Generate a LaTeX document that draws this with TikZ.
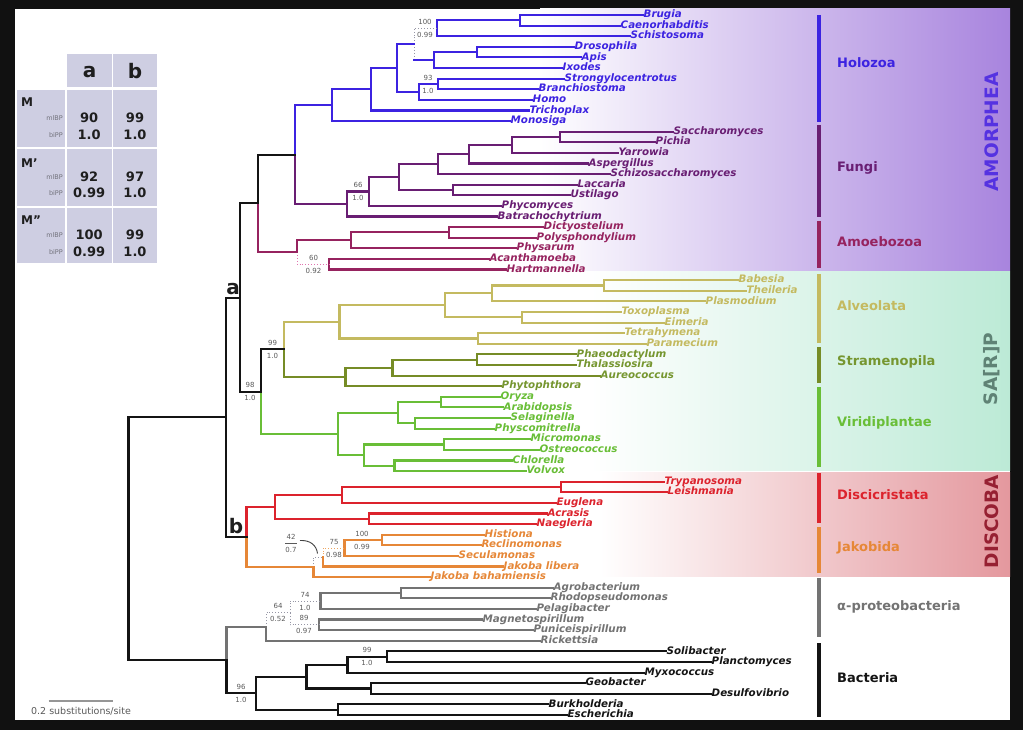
\documentclass[tikz,border=0pt]{standalone}
\usepackage{fontspec}
\setmainfont{DejaVu Sans}
\usetikzlibrary{calc}
\definecolor{cHolo}{RGB}{60,35,225}
\definecolor{cFung}{RGB}{105,30,115}
\definecolor{cAmoe}{RGB}{150,35,95}
\definecolor{cAlve}{RGB}{196,186,96}
\definecolor{cStra}{RGB}{118,140,38}
\definecolor{cViri}{RGB}{105,190,55}
\definecolor{cDisc}{RGB}{220,35,45}
\definecolor{cJako}{RGB}{230,135,55}
\definecolor{cProt}{RGB}{115,115,115}
\definecolor{cBact}{RGB}{20,20,20}
\definecolor{cSupp}{RGB}{90,90,90}
\definecolor{cCell}{RGB}{206,206,226}
\definecolor{cFrame}{RGB}{17,17,17}
\definecolor{cTab}{RGB}{30,30,30}
\definecolor{cTsub}{RGB}{115,115,125}
\definecolor{cDotG}{RGB}{150,150,165}
\definecolor{cDotP}{RGB}{225,115,175}
\definecolor{cDotO}{RGB}{238,165,95}
\definecolor{cAmorTxt}{RGB}{85,50,225}
\definecolor{cSarTxt}{RGB}{95,130,117}
\definecolor{cDiscoTxt}{RGB}{150,32,50}
\definecolor{cAmorMid}{RGB}{226,190,234}
\definecolor{cAmorR}{RGB}{168,132,222}
\definecolor{cSarMid}{RGB}{236,246,234}
\definecolor{cSarR}{RGB}{188,234,214}
\definecolor{cDiscoMid}{RGB}{246,214,214}
\definecolor{cDiscoR}{RGB}{228,152,158}
\definecolor{cScale}{RGB}{150,150,150}
\definecolor{cStraTxt}{RGB}{118,150,48}
\tikzset{
  branch/.style={line width=2.1pt, line cap=rect, line join=miter},
  dotbr/.style={line width=0.9pt, dotted},
  taxon/.style={anchor=west, inner sep=0.5pt, font={\fontsize{10.3}{12}\selectfont\bfseries\itshape}, text height=7.5pt, text depth=2.2pt},
  supp/.style={inner sep=0pt, font={\fontsize{7}{8}\selectfont}, text=cSupp},
  grp/.style={anchor=west, inner sep=0pt, font={\fontsize{13}{15}\selectfont\bfseries}},
  bandlbl/.style={rotate=90, inner sep=0pt, font={\fontsize{18.5}{20}\selectfont\bfseries}},
  gbar/.style={line width=4.5pt},
  cell/.style={fill=cCell, draw=none, inner sep=0pt},
  tval/.style={inner sep=0pt, font={\fontsize{13}{15}\selectfont\bfseries}, text=cTab},
  tsub/.style={anchor=east, inner sep=0pt, font={\fontsize{6.5}{7}\selectfont}, text=cTsub},
  trow/.style={anchor=west, inner sep=0pt, font={\fontsize{12}{14}\selectfont\bfseries}, text=cTab},
  clade/.style={inner sep=0pt, font={\fontsize{20}{22}\selectfont\bfseries}, text=cTab},
}
\newcommand\mkleaf[5]{%
  \coordinate (#1) at ({#2-2},{15+10.606*#3});
  \node[taxon,text=#4] (t#1) at (#1) {#5};}
\newcommand\mknode[4]{\path let \p1=(#3),\p2=(#4) in coordinate (#1) at (#2pt,{0.5*(\y1+\y2)});}
\newcommand\mkbr[3]{\draw[branch,#1] (#2) |- (#3);}
\begin{document}
\begin{tikzpicture}[x=1pt,y=-1pt]
\useasboundingbox (0,0) rectangle (1023,730);
\fill[cFrame] (0,0) rectangle (1023,730);
\fill[white] (15,9) rectangle (1010,720);
% bands
\shade[left color=white, middle color=cAmorMid, right color=cAmorR] (540,9) rectangle (1010,270.5);
\shade[left color=white, middle color=cSarMid, right color=cSarR] (590,272) rectangle (1010,470);
\shade[left color=white, middle color=cDiscoMid, right color=cDiscoR] (600,472) rectangle (1010,576.5);
% group bars
\draw[gbar,cHolo] (819,15) -- (819,122);
\draw[gbar,cFung] (819,125) -- (819,217);
\draw[gbar,cAmoe] (819,221) -- (819,268);
\draw[gbar,cAlve] (819,274) -- (819,343);
\draw[gbar,cStra] (819,347) -- (819,383);
\draw[gbar,cViri] (819,387) -- (819,467);
\draw[gbar,cDisc] (819,473) -- (819,523);
\draw[gbar,cJako] (819,527) -- (819,573);
\draw[gbar,cProt] (819,578) -- (819,637);
\draw[gbar,cBact] (819,643) -- (819,717);
% group labels
\node[grp,text=cHolo] (gHolo) at (837,63) {Holozoa};
\node[grp,text=cFung] (gFung) at (837,168) {Fungi};
\node[grp,text=cAmoe] (gAmoe) at (837,242) {Amoebozoa};
\node[grp,text=cAlve] (gAlve) at (837,306) {Alveolata};
\node[grp,text=cStraTxt] (gStra) at (837,362) {Stramenopila};
\node[grp,text=cViri] (gViri) at (837,423) {Viridiplantae};
\node[grp,text=cDisc] (gDisc) at (837,495) {Discicristata};
\node[grp,text=cJako] (gJako) at (837,548) {Jakobida};
\node[grp,text=cProt] (gProt) at (837,607) {α-proteobacteria};
\node[grp,text=cBact] (gBact) at (837,678) {Bacteria};
\node[bandlbl,text=cAmorTxt] (bAmor) at (992,132) {AMORPHEA};
\node[bandlbl,text=cSarTxt] (bSar) at (992,369) {SA[R]P};
\node[bandlbl,text=cDiscoTxt] (bDisco) at (992,521.5) {DISCOBA};
% table
\node[cell,minimum width=45pt,minimum height=33pt] (cHa) at (89.2,70.8) {};
\node[cell,minimum width=43.4pt,minimum height=33pt] (cHb) at (135,70.8) {};
\node[cell,minimum width=48pt,minimum height=57pt] (cL1) at (41,118.5) {};
\node[cell,minimum width=45pt,minimum height=57pt] (cA1) at (89.2,118.5) {};
\node[cell,minimum width=43.4pt,minimum height=57pt] (cB1) at (135,118.5) {};
\node[cell,minimum width=48pt,minimum height=57pt] (cL2) at (41,177.5) {};
\node[cell,minimum width=45pt,minimum height=57pt] (cA2) at (89.2,177.5) {};
\node[cell,minimum width=43.4pt,minimum height=57pt] (cB2) at (135,177.5) {};
\node[cell,minimum width=48pt,minimum height=55pt] (cL3) at (41,235.7) {};
\node[cell,minimum width=45pt,minimum height=55pt] (cA3) at (89.2,235.7) {};
\node[cell,minimum width=43.4pt,minimum height=55pt] (cB3) at (135,235.7) {};
\node[clade] (thA) at (89.5,72) {a};
\node[clade] (thB) at (135,71) {b};
\node[trow] (tM1) at (21,102) {M};
\node[trow] (tM2) at (21,163) {M\symbol{39}};
\node[trow] (tM3) at (21,220) {M\symbol{34}};
\node[tsub] (tm1) at (63,118) {mlBP};
\node[tsub] (tp1) at (63,135) {biPP};
\node[tsub] (tm2) at (63,177) {mlBP};
\node[tsub] (tp2) at (63,193) {biPP};
\node[tsub] (tm3) at (63,235) {mlBP};
\node[tsub] (tp3) at (63,252) {biPP};
\node[tval] (v1a1) at (89.2,118) {90};
\node[tval] (v1a2) at (89.2,135) {1.0};
\node[tval] (v1b1) at (135,118) {99};
\node[tval] (v1b2) at (135,135) {1.0};
\node[tval] (v2a1) at (89.2,177) {92};
\node[tval] (v2a2) at (89.2,193) {0.99};
\node[tval] (v2b1) at (135,177) {97};
\node[tval] (v2b2) at (135,193) {1.0};
\node[tval] (v3a1) at (89.2,235) {100};
\node[tval] (v3a2) at (89.2,252) {0.99};
\node[tval] (v3b1) at (135,235) {99};
\node[tval] (v3b2) at (135,252) {1.0};
% leaves
\mkleaf{brug}{645}{0}{cHolo}{Brugia}
\mkleaf{caen}{622}{1}{cHolo}{Caenorhabditis}
\mkleaf{schi}{632}{2}{cHolo}{Schistosoma}
\mkleaf{dros}{576}{3}{cHolo}{Drosophila}
\mkleaf{apis}{583}{4}{cHolo}{Apis}
\mkleaf{ixod}{564}{5}{cHolo}{Ixodes}
\mkleaf{stro}{566}{6}{cHolo}{Strongylocentrotus}
\mkleaf{bran}{540}{7}{cHolo}{Branchiostoma}
\mkleaf{homo}{534}{8}{cHolo}{Homo}
\mkleaf{tric}{531}{9}{cHolo}{Trichoplax}
\mkleaf{mono}{512}{10}{cHolo}{Monosiga}
\mkleaf{sacc}{675}{11}{cFung}{Saccharomyces}
\mkleaf{pich}{657}{12}{cFung}{Pichia}
\mkleaf{yarr}{620}{13}{cFung}{Yarrowia}
\mkleaf{aspe}{590}{14}{cFung}{Aspergillus}
\mkleaf{schz}{612}{15}{cFung}{Schizosaccharomyces}
\mkleaf{lacc}{579}{16}{cFung}{Laccaria}
\mkleaf{usti}{572}{17}{cFung}{Ustilago}
\mkleaf{phyc}{503}{18}{cFung}{Phycomyces}
\mkleaf{batr}{499}{19}{cFung}{Batrachochytrium}
\mkleaf{dict}{545}{20}{cAmoe}{Dictyostelium}
\mkleaf{poly}{538}{21}{cAmoe}{Polysphondylium}
\mkleaf{phys}{518}{22}{cAmoe}{Physarum}
\mkleaf{acan}{491}{23}{cAmoe}{Acanthamoeba}
\mkleaf{hart}{508}{24}{cAmoe}{Hartmannella}
\mkleaf{babe}{740}{25}{cAlve}{Babesia}
\mkleaf{thei}{748}{26}{cAlve}{Theileria}
\mkleaf{plas}{707}{27}{cAlve}{Plasmodium}
\mkleaf{toxo}{623}{28}{cAlve}{Toxoplasma}
\mkleaf{eime}{666}{29}{cAlve}{Eimeria}
\mkleaf{tetr}{626}{30}{cAlve}{Tetrahymena}
\mkleaf{para}{648}{31}{cAlve}{Paramecium}
\mkleaf{phae}{578}{32}{cStraTxt}{Phaeodactylum}
\mkleaf{thal}{578}{33}{cStraTxt}{Thalassiosira}
\mkleaf{aure}{602}{34}{cStraTxt}{Aureococcus}
\mkleaf{phyt}{503}{35}{cStraTxt}{Phytophthora}
\mkleaf{oryz}{502}{36}{cViri}{Oryza}
\mkleaf{arab}{505}{37}{cViri}{Arabidopsis}
\mkleaf{sela}{512}{38}{cViri}{Selaginella}
\mkleaf{phmi}{496}{39}{cViri}{Physcomitrella}
\mkleaf{micr}{532}{40}{cViri}{Micromonas}
\mkleaf{ostr}{541}{41}{cViri}{Ostreococcus}
\mkleaf{chlo}{514}{42}{cViri}{Chlorella}
\mkleaf{volv}{528}{43}{cViri}{Volvox}
\mkleaf{tryp}{666}{44}{cDisc}{Trypanosoma}
\mkleaf{leis}{669}{45}{cDisc}{Leishmania}
\mkleaf{eugl}{558}{46}{cDisc}{Euglena}
\mkleaf{acra}{549}{47}{cDisc}{Acrasis}
\mkleaf{naeg}{538}{48}{cDisc}{Naegleria}
\mkleaf{hist}{486}{49}{cJako}{Histiona}
\mkleaf{recl}{483}{50}{cJako}{Reclinomonas}
\mkleaf{secu}{460}{51}{cJako}{Seculamonas}
\mkleaf{jlib}{505}{52}{cJako}{Jakoba libera}
\mkleaf{jbah}{432}{53}{cJako}{Jakoba bahamiensis}
\mkleaf{agro}{555}{54}{cProt}{Agrobacterium}
\mkleaf{rhod}{552}{55}{cProt}{Rhodopseudomonas}
\mkleaf{pela}{538}{56}{cProt}{Pelagibacter}
\mkleaf{magn}{484}{57}{cProt}{Magnetospirillum}
\mkleaf{puni}{535}{58}{cProt}{Puniceispirillum}
\mkleaf{rick}{542}{59}{cProt}{Rickettsia}
\mkleaf{soli}{668}{60}{cBact}{Solibacter}
\mkleaf{plan}{713}{61}{cBact}{Planctomyces}
\mkleaf{myxo}{646}{62}{cBact}{Myxococcus}
\mkleaf{geob}{587}{63}{cBact}{Geobacter}
\mkleaf{desu}{713}{64}{cBact}{Desulfovibrio}
\mkleaf{burk}{550}{65}{cBact}{Burkholderia}
\mkleaf{esch}{569}{66}{cBact}{Escherichia}
% internal nodes
\mknode{hBC}{520}{brug}{caen}
\mknode{hBCS}{437}{hBC}{schi}
\mknode{hDA}{477}{dros}{apis}
\mknode{hDAI}{434}{hDA}{ixod}
\mknode{hProt}{414}{hBCS}{hDAI}
\mknode{hSB}{438}{stro}{bran}
\mknode{hDeut}{419}{hSB}{homo}
\mknode{hBil}{397}{hProt}{hDeut}
\mknode{hMet}{371}{hBil}{tric}
\mknode{hHolo}{332}{hMet}{mono}
\mknode{fSP}{560}{sacc}{pich}
\mknode{fSPY}{512}{fSP}{yarr}
\mknode{fSPYA}{469}{fSPY}{aspe}
\mknode{fAsco}{438}{fSPYA}{schz}
\mknode{fLU}{453}{lacc}{usti}
\mknode{fDik}{399}{fAsco}{fLU}
\mknode{fPhy}{369}{fDik}{phyc}
\mknode{fFungi}{347}{fPhy}{batr}
\mknode{opis}{295}{hHolo}{fFungi}
\mknode{aDP}{449}{dict}{poly}
\mknode{aDPP}{351}{aDP}{phys}
\mknode{aAH}{329}{acan}{hart}
\mknode{aAmoeb}{297}{aDPP}{aAH}
\mknode{amor}{258}{opis}{aAmoeb}
\mknode{vBT}{604}{babe}{thei}
\mknode{vBTP}{492}{vBT}{plas}
\mknode{vTE}{522}{toxo}{eime}
\mknode{vApi}{445}{vBTP}{vTE}
\mknode{vTP}{478}{tetr}{para}
\mknode{vAlv}{339.5}{vApi}{vTP}
\mknode{sPT}{477}{phae}{thal}
\mknode{sPTA}{392.5}{sPT}{aure}
\mknode{sStram}{345.5}{sPTA}{phyt}
\mknode{SR}{284}{vAlv}{sStram}
\mknode{gOA}{441}{oryz}{arab}
\mknode{gSP}{415}{sela}{phmi}
\mknode{gEmb}{398}{gOA}{gSP}
\mknode{gMO}{444}{micr}{ostr}
\mknode{gCV}{394.5}{chlo}{volv}
\mknode{gChl}{364}{gMO}{gCV}
\mknode{gViri}{338}{gEmb}{gChl}
\mknode{SAR}{261}{SR}{gViri}
\mknode{nodeA}{240}{amor}{SAR}
\mknode{dTL}{561}{tryp}{leis}
\mknode{dTLE}{342}{dTL}{eugl}
\mknode{dAN}{369}{acra}{naeg}
\mknode{dDisc}{275}{dTLE}{dAN}
\mknode{jHR}{382}{hist}{recl}
\mknode{jHRS}{344.5}{jHR}{secu}
\mknode{jHRSJ}{323}{jHRS}{jlib}
\mknode{jJak}{313.5}{jHRSJ}{jbah}
\mknode{nodeB}{246.5}{dDisc}{jJak}
\mknode{euk}{226}{nodeA}{nodeB}
\mknode{pAR}{401}{agro}{rhod}
\mknode{pARP}{320.5}{pAR}{pela}
\mknode{pMP}{319}{magn}{puni}
\mknode{pAA}{290}{pARP}{pMP}
\mknode{pAlpha}{266}{pAA}{rick}
\mknode{bSP}{387}{soli}{plan}
\mknode{bSPM}{347.5}{bSP}{myxo}
\mknode{bGD}{371}{geob}{desu}
\mknode{bDelta}{306.5}{bSPM}{bGD}
\mknode{bBE}{338}{burk}{esch}
\mknode{bBact}{256}{bDelta}{bBE}
\mknode{bac}{226.5}{pAlpha}{bBact}
\mknode{root}{128.5}{euk}{bac}
% Holozoa branches
\mkbr{cHolo}{hBC}{brug}\mkbr{cHolo}{hBC}{caen}
\mkbr{cHolo}{hBCS}{hBC}\mkbr{cHolo}{hBCS}{schi}
\mkbr{cHolo}{hDA}{dros}\mkbr{cHolo}{hDA}{apis}
\mkbr{cHolo}{hDAI}{hDA}\mkbr{cHolo}{hDAI}{ixod}
\draw[dotbr,cDotG] (hProt) |- (hBCS);
\draw[dotbr,cDotG] (hProt) -- (hProt |- hDAI);
\draw[branch,cHolo] (hProt |- hDAI) -- (hDAI);
\mkbr{cHolo}{hSB}{stro}\mkbr{cHolo}{hSB}{bran}
\mkbr{cHolo}{hDeut}{hSB}\mkbr{cHolo}{hDeut}{homo}
\mkbr{cHolo}{hBil}{hProt}\mkbr{cHolo}{hBil}{hDeut}
\mkbr{cHolo}{hMet}{hBil}\mkbr{cHolo}{hMet}{tric}
\mkbr{cHolo}{hHolo}{hMet}\mkbr{cHolo}{hHolo}{mono}
% Fungi
\mkbr{cFung}{fSP}{sacc}\mkbr{cFung}{fSP}{pich}
\mkbr{cFung}{fSPY}{fSP}\mkbr{cFung}{fSPY}{yarr}
\mkbr{cFung}{fSPYA}{fSPY}\mkbr{cFung}{fSPYA}{aspe}
\mkbr{cFung}{fAsco}{fSPYA}\mkbr{cFung}{fAsco}{schz}
\mkbr{cFung}{fLU}{lacc}\mkbr{cFung}{fLU}{usti}
\mkbr{cFung}{fDik}{fAsco}\mkbr{cFung}{fDik}{fLU}
\mkbr{cFung}{fPhy}{fDik}\mkbr{cFung}{fPhy}{phyc}
\mkbr{cFung}{fFungi}{fPhy}\mkbr{cFung}{fFungi}{batr}
\mkbr{cHolo}{opis}{hHolo}\mkbr{cFung}{opis}{fFungi}
% Amoebozoa
\mkbr{cAmoe}{aDP}{dict}\mkbr{cAmoe}{aDP}{poly}
\mkbr{cAmoe}{aDPP}{aDP}\mkbr{cAmoe}{aDPP}{phys}
\mkbr{cAmoe}{aAH}{acan}\mkbr{cAmoe}{aAH}{hart}
\mkbr{cAmoe}{aAmoeb}{aDPP}
\draw[dotbr,cDotP] (aAmoeb) |- (aAH);
\mkbr{cBact}{amor}{opis}\mkbr{cAmoe}{amor}{aAmoeb}
% SAR
\mkbr{cAlve}{vBT}{babe}\mkbr{cAlve}{vBT}{thei}
\mkbr{cAlve}{vBTP}{vBT}\mkbr{cAlve}{vBTP}{plas}
\mkbr{cAlve}{vTE}{toxo}\mkbr{cAlve}{vTE}{eime}
\mkbr{cAlve}{vApi}{vBTP}\mkbr{cAlve}{vApi}{vTE}
\mkbr{cAlve}{vTP}{tetr}\mkbr{cAlve}{vTP}{para}
\mkbr{cAlve}{vAlv}{vApi}\mkbr{cAlve}{vAlv}{vTP}
\mkbr{cStra}{sPT}{phae}\mkbr{cStra}{sPT}{thal}
\mkbr{cStra}{sPTA}{sPT}\mkbr{cStra}{sPTA}{aure}
\mkbr{cStra}{sStram}{sPTA}\mkbr{cStra}{sStram}{phyt}
\mkbr{cAlve}{SR}{vAlv}\mkbr{cStra}{SR}{sStram}
\mkbr{cViri}{gOA}{oryz}\mkbr{cViri}{gOA}{arab}
\mkbr{cViri}{gSP}{sela}\mkbr{cViri}{gSP}{phmi}
\mkbr{cViri}{gEmb}{gOA}\mkbr{cViri}{gEmb}{gSP}
\mkbr{cViri}{gMO}{micr}\mkbr{cViri}{gMO}{ostr}
\mkbr{cViri}{gCV}{chlo}\mkbr{cViri}{gCV}{volv}
\mkbr{cViri}{gChl}{gMO}\mkbr{cViri}{gChl}{gCV}
\mkbr{cViri}{gViri}{gEmb}\mkbr{cViri}{gViri}{gChl}
\mkbr{cBact}{SAR}{SR}\mkbr{cViri}{SAR}{gViri}
\mkbr{cBact}{nodeA}{amor}\mkbr{cBact}{nodeA}{SAR}
% Discoba
\mkbr{cDisc}{dTL}{tryp}\mkbr{cDisc}{dTL}{leis}
\mkbr{cDisc}{dTLE}{dTL}\mkbr{cDisc}{dTLE}{eugl}
\mkbr{cDisc}{dAN}{acra}\mkbr{cDisc}{dAN}{naeg}
\mkbr{cDisc}{dDisc}{dTLE}\mkbr{cDisc}{dDisc}{dAN}
\mkbr{cJako}{jHR}{hist}\mkbr{cJako}{jHR}{recl}
\mkbr{cJako}{jHRS}{jHR}\mkbr{cJako}{jHRS}{secu}
\draw[dotbr,cDotO] (jHRSJ) |- (jHRS);
\mkbr{cJako}{jHRSJ}{jlib}
\draw[dotbr,cDotG] (jJak) |- (jHRSJ);
\mkbr{cJako}{jJak}{jbah}
\mkbr{cDisc}{nodeB}{dDisc}\mkbr{cJako}{nodeB}{jJak}
\mkbr{cBact}{euk}{nodeA}\mkbr{cBact}{euk}{nodeB}
% alpha-proteobacteria
\mkbr{cProt}{pAR}{agro}\mkbr{cProt}{pAR}{rhod}
\mkbr{cProt}{pARP}{pAR}\mkbr{cProt}{pARP}{pela}
\mkbr{cProt}{pMP}{magn}\mkbr{cProt}{pMP}{puni}
\draw[dotbr,cDotG] (pAA) |- (pARP);
\draw[dotbr,cDotG] (pAA) |- (pMP);
\draw[dotbr,cDotG] (pAlpha) |- (pAA);
\mkbr{cProt}{pAlpha}{rick}
% Bacteria
\mkbr{cBact}{bSP}{soli}\mkbr{cBact}{bSP}{plan}
\mkbr{cBact}{bSPM}{bSP}\mkbr{cBact}{bSPM}{myxo}
\mkbr{cBact}{bGD}{geob}\mkbr{cBact}{bGD}{desu}
\mkbr{cBact}{bDelta}{bSPM}\mkbr{cBact}{bDelta}{bGD}
\mkbr{cBact}{bBE}{burk}\mkbr{cBact}{bBE}{esch}
\mkbr{cBact}{bBact}{bDelta}\mkbr{cBact}{bBact}{bBE}
\mkbr{cProt}{bac}{pAlpha}\mkbr{cBact}{bac}{bBact}
\mkbr{cBact}{root}{euk}\mkbr{cBact}{root}{bac}
% clade letters
\node[clade,anchor=base] (lblA) at (233,294.5) {a};
\node[clade,anchor=base] (lblB) at (236,533.5) {b};
% support values
\node[supp] (s1a) at (425,22) {100};
\node[supp] (s1b) at (425,34.5) {0.99};
\node[supp] (s2a) at (428,77.5) {93};
\node[supp] (s2b) at (428,90.5) {1.0};
\node[supp] (s3a) at (358,185) {66};
\node[supp] (s3b) at (358,198) {1.0};
\node[supp] (s4a) at (313.5,258) {60};
\node[supp] (s4b) at (313.5,271) {0.92};
\node[supp] (s5a) at (272.5,343) {99};
\node[supp] (s5b) at (272.5,356) {1.0};
\node[supp] (s6a) at (250,385) {98};
\node[supp] (s6b) at (250,398) {1.0};
\node[supp] (s7a) at (362,533.5) {100};
\node[supp] (s7b) at (362,546.5) {0.99};
\node[supp] (s8a) at (334,541.5) {75};
\node[supp] (s8b) at (334,554.5) {0.98};
\node[supp] (s9a) at (291,536.5) {42};
\node[supp] (s9b) at (291,550) {0.7};
\coordinate (fracL) at (285,543.2);
\coordinate (fracR) at (297,543.2);
\draw[cSupp,line width=0.6pt] (fracL) -- (fracR);
\coordinate (arcS) at (300,540.5);
\coordinate (arcE) at (317.5,553.5);
\draw[cBact!80,line width=0.9pt] (arcS) .. controls (310,540) and (316.5,545) .. (arcE);
\node[supp] (s10a) at (305,594.5) {74};
\node[supp] (s10b) at (305,607.5) {1.0};
\node[supp] (s11a) at (304,618.3) {89};
\node[supp] (s11b) at (304,631.3) {0.97};
\node[supp] (s12a) at (278,606.4) {64};
\node[supp] (s12b) at (278,619.4) {0.52};
\node[supp] (s13a) at (367,650.2) {99};
\node[supp] (s13b) at (367,663.2) {1.0};
\node[supp] (s14a) at (241,686.6) {96};
\node[supp] (s14b) at (241,699.6) {1.0};
% scale bar
\coordinate (sbL) at (48.5,700.5);
\coordinate (sbR) at (113,700.5);
\draw[cScale,line width=2pt] (sbL) -- (sbR);
\node[inner sep=0pt,font={\fontsize{9.5}{11}\selectfont},text=cSupp] (sbT) at (81,711) {0.2 substitutions/site};
\end{tikzpicture}
\end{document}
